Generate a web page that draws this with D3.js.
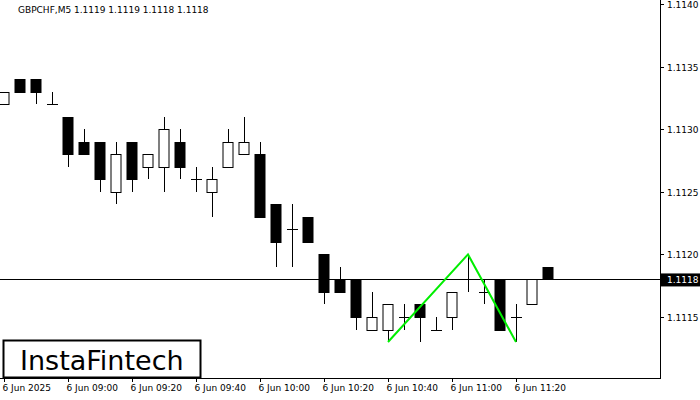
<!DOCTYPE html>
<html>
<head>
<meta charset="UTF-8">
<style>
  body { margin: 0; background: #fff; }
  text { font-family: "DejaVu Sans", sans-serif; }
</style>
</head>
<body>
<svg id="chart" width="700" height="400"></svg>
<script src="https://cdn.jsdelivr.net/npm/d3@7"></script>
<script>
// candles, 5 minute bars starting 08:40
var opens  = [1.1132,1.1134,1.1134,1.1132,1.1131,1.1129,1.1129,1.1125,1.1129,1.1127,1.1127,1.1129,1.1126,1.1125,1.1127,1.1128,1.1128,1.1124,1.1122,1.1123,1.1120,1.1118,1.1118,1.1114,1.1114,1.1115,1.1116,1.1114,1.1115,1.1118,1.1117,1.1118,1.1115,1.1116,1.1119];
var closes = [1.1133,1.1133,1.1133,1.1132,1.1128,1.1128,1.1126,1.1128,1.1126,1.1128,1.1130,1.1127,1.1126,1.1126,1.1129,1.1129,1.1123,1.1121,1.1122,1.1121,1.1117,1.1117,1.1115,1.1115,1.1116,1.1115,1.1115,1.1114,1.1117,1.1118,1.1117,1.1114,1.1115,1.1118,1.1118];
var highs  = [1.1133,1.1134,1.1134,1.1133,1.1131,1.1130,1.1129,1.1129,1.1129,1.1128,1.1131,1.1130,1.1127,1.1127,1.1130,1.1131,1.1129,1.1124,1.1124,1.1123,1.1120,1.1119,1.1118,1.1117,1.1116,1.1116,1.1116,1.1115,1.1117,1.1120,1.1118,1.1118,1.1116,1.1118,1.1119];
var lows   = [1.1132,1.1133,1.1132,1.1132,1.1127,1.1128,1.1125,1.1124,1.1125,1.1126,1.1125,1.1126,1.1125,1.1123,1.1127,1.1128,1.1123,1.1119,1.1119,1.1121,1.1116,1.1117,1.1114,1.1114,1.1113,1.1114,1.1113,1.1114,1.1114,1.1117,1.1116,1.1114,1.1113,1.1116,1.1118];
var timeLabels = ["6 Jun 2025","6 Jun 09:00","6 Jun 09:20","6 Jun 09:40","6 Jun 10:00","6 Jun 10:20","6 Jun 10:40","6 Jun 11:00","6 Jun 11:20"];
var priceTicks = [1.1115,1.1120,1.1125,1.1130,1.1135,1.1140];
var patternIdx = [24, 29, 32];
var patternPrice = [1.1113, 1.1120, 1.1113];
var lastPrice = 1.1118;

var svg = d3.select("#chart");
var x = d3.scaleLinear().domain([0, 1]).range([4, 20]);
var y = d3.scaleLinear().domain([1.1140, 1.1115]).range([4, 317]);

// frame
svg.append("line").attr("x1", 660.5).attr("x2", 660.5).attr("y1", 0).attr("y2", 379).attr("stroke", "#000");
svg.append("line").attr("x1", 0).attr("x2", 661).attr("y1", 378.5).attr("y2", 378.5).attr("stroke", "#000");

// price axis
var yg = svg.append("g");
priceTicks.forEach(function(p) {
  var yy = Math.round(y(p)) + 0.5;
  yg.append("line").attr("x1", 660).attr("x2", 664).attr("y1", yy).attr("y2", yy).attr("stroke", "#000");
  yg.append("text").attr("x", 667).attr("y", yy + 3.5).attr("font-size", 9).text(p.toFixed(4));
});

// time axis
timeLabels.forEach(function(t, i) {
  var xx = Math.round(x(i * 4)) + 0.5;
  svg.append("line").attr("x1", xx).attr("x2", xx).attr("y1", 378).attr("y2", 382).attr("stroke", "#000");
  svg.append("text").attr("x", xx - 2).attr("y", 391).attr("font-size", 9).text(t);
});

// last price line
svg.append("line").attr("x1", 0).attr("x2", 660).attr("y1", Math.round(y(lastPrice)) + 0.5).attr("y2", Math.round(y(lastPrice)) + 0.5).attr("stroke", "#000");
svg.append("rect").attr("x", 661).attr("y", y(lastPrice) - 6).attr("width", 39).attr("height", 13).attr("fill", "#000");
svg.append("text").attr("x", 667).attr("y", y(lastPrice) + 3.5).attr("font-size", 9).attr("fill", "#fff").text(lastPrice.toFixed(4));

// candles
var idx = d3.range(opens.length);
var bw = 11;
var g = svg.append("g");
g.selectAll("line.wick").data(idx).enter().append("line")
  .attr("x1", function(i) { return Math.round(x(i)) + 0.5; })
  .attr("x2", function(i) { return Math.round(x(i)) + 0.5; })
  .attr("y1", function(i) { return Math.round(y(highs[i])); })
  .attr("y2", function(i) { return Math.round(y(lows[i])); })
  .attr("stroke", "#000");
g.selectAll("rect.body").data(idx).enter().append("rect")
  .attr("x", function(i) { return Math.round(x(i)) - 5; })
  .attr("y", function(i) { return Math.round(y(Math.max(opens[i], closes[i]))) + 0.5; })
  .attr("width", bw - 1)
  .attr("height", function(i) { return Math.abs(Math.round(y(opens[i])) - Math.round(y(closes[i]))); })
  .attr("fill", function(i) { return closes[i] >= opens[i] ? "#fff" : "#000"; })
  .attr("stroke", "#000");
// dojis: horizontal tick
idx.filter(function(i) { return opens[i] === closes[i]; }).forEach(function(i) {
  var yy = Math.round(y(opens[i])) + 0.5;
  g.append("line").attr("x1", Math.round(x(i)) - 5).attr("x2", Math.round(x(i)) + 6).attr("y1", yy).attr("y2", yy).attr("stroke", "#000");
});

// pattern
var line = d3.line().x(function(d) { return x(d[0]); }).y(function(d) { return y(d[1]); });
svg.append("path").datum(patternIdx.map(function(d, k) { return [d, patternPrice[k]]; }))
  .attr("d", line).attr("fill", "none").attr("stroke", "#00ee00").attr("stroke-width", 2);

// title
svg.append("text").attr("x", 18).attr("y", 13).attr("font-size", 9).text("GBPCHF,M5  1.1119 1.1119 1.1118 1.1118");

// logo
svg.append("rect").attr("x", 3.5).attr("y", 340.5).attr("width", 197).attr("height", 37).attr("fill", "#fff").attr("stroke", "#000").attr("stroke-width", 2);
svg.append("text").attr("x", 20).attr("y", 370).attr("font-size", 27).attr("font-family", "Roboto, sans-serif").text("InstaFintech");
</script>
</body>
</html>
